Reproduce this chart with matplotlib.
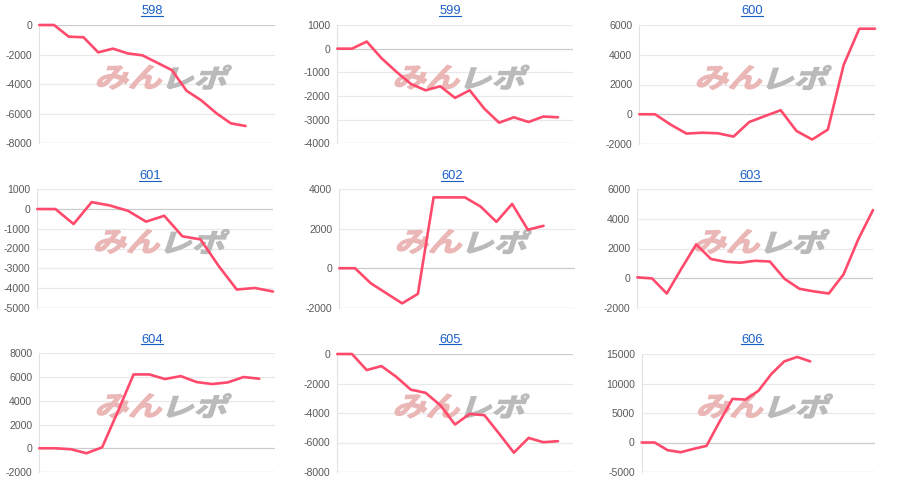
import numpy as np
import matplotlib.pyplot as plt
import matplotlib.transforms as mtransforms
from matplotlib.lines import Line2D
from matplotlib.textpath import TextPath
from matplotlib.patches import PathPatch
from matplotlib.font_manager import FontProperties

plt.rcParams['font.family'] = ['Liberation Sans', 'DejaVu Sans']
plt.rcParams['axes.unicode_minus'] = False

# ------------------------------------------------------------------
# data
# ------------------------------------------------------------------
titles = ['598', '599', '600', '601', '602', '603', '604', '605', '606']
n_slots = [17, 17, 16, 14, 16, 17, 16, 17, 19]

v598 = [0, 0, -790, -830, -1850, -1600, -1920, -2050, -2550, -3050,
        -4450, -5100, -5950, -6650, -6830]
v599 = [0, 0, 300, -400, -970, -1490, -1760, -1590, -2080, -1760,
        -2540, -3130, -2900, -3100, -2870, -2900]
v600 = [0, 0, -700, -1300, -1240, -1280, -1500, -520, -120, 270,
        -1120, -1700, -1030, 3300, 5750, 5750]
v601 = [0, 0, -760, 350, 180, -90, -640, -340, -1380, -1540,
        -2880, -4080, -4000, -4180]
v602 = [0, 0, -760, -1270, -1780, -1300, 3590, 3590, 3590, 3120,
        2350, 3260, 1950, 2150]
v603 = [50, -20, -1040, 650, 2280, 1290, 1100, 1040, 1170, 1120,
        -50, -720, -900, -1040, 250, 2620, 4600]
v604 = [0, 0, -80, -420, 80, 3100, 6220, 6220, 5830, 6080,
        5580, 5410, 5550, 6000, 5860]
v605 = [0, 0, -1090, -820, -1540, -2420, -2630, -3470, -4780, -4060,
        -4150, -5400, -6690, -5690, -5980, -5910]
v606 = [0, 0, -1300, -1650, -1080, -570, 3500, 7390, 7270, 8750,
        11600, 13750, 14500, 13750]
series = [v598, v599, v600, v601, v602, v603, v604, v605, v606]

yt598 = [-8000, -6000, -4000, -2000, 0]
yt599 = [-4000, -3000, -2000, -1000, 0, 1000]
yt600 = [-2000, 0, 2000, 4000, 6000]
yt601 = [-5000, -4000, -3000, -2000, -1000, 0, 1000]
yt602 = [-2000, 0, 2000, 4000]
yt603 = [-2000, 0, 2000, 4000, 6000]
yt604 = [-2000, 0, 2000, 4000, 6000, 8000]
yt605 = [-8000, -6000, -4000, -2000, 0]
yt606 = [-5000, 0, 5000, 10000, 15000]
yticks = [yt598, yt599, yt600, yt601, yt602, yt603, yt604, yt605, yt606]

# ------------------------------------------------------------------
# layout in pixels: plot box (left, right, top, bottom), title pos
# ------------------------------------------------------------------
W, H = 900, 492
boxes = [(39.3, 275, 25, 143.3), (337.3, 572.7, 25, 143.3), (639.3, 875, 25, 144),
         (37.3, 273, 189.3, 307.7), (339.3, 575, 189.3, 307.7), (637.3, 873, 189.3, 307.7),
         (39.3, 275, 353.3, 472), (337.3, 572.7, 354, 472), (641.7, 875, 354, 472)]
title_x = [152, 450, 752, 150, 452, 750, 152, 450, 752]
title_base = [14, 14, 14, 179, 179, 179, 342.7, 342.7, 342.7]

LINE_COLOR = '#ff4a6b'
LINK_COLOR = '#1a5fc8'
GRID = '#e9e9e9'
BASE = '#cccccc'

fig = plt.figure(figsize=(W / 100, H / 100), dpi=100)
fig.patch.set_facecolor('white')

wm_font = FontProperties(family='Noto Sans CJK JP', weight='bold')


def watermark(ax):
    # "みんレポ" logo, pink + grey, stretched and slanted
    parts = [('みん', '#eab6b6', -26, 64, 24), ('レポ', '#bababa', 42, 58, 24)]
    for txt, col, dx, tw, th in parts:
        tp = TextPath((0, 0), txt, size=30, prop=wm_font)
        bb = tp.get_extents()
        tr = (mtransforms.Affine2D()
              .translate(-(bb.x0 + bb.x1) / 2, -(bb.y0 + bb.y1) / 2)
              .scale(tw / bb.width, th / bb.height)
              .skew_deg(18, 0)
              .translate(dx, 7)
              .scale(1 / 100)
              + fig.dpi_scale_trans
              + mtransforms.ScaledTranslation(0.5, 0.5, ax.transAxes)
              - mtransforms.ScaledTranslation(0, 0, fig.dpi_scale_trans))
        patch = PathPatch(tp, facecolor=col, edgecolor=col, lw=0.9,
                          joinstyle='round', transform=tr, zorder=3)
        patch.set_clip_on(False)
        ax.add_artist(patch)


for i in range(9):
    l, r, t, b = boxes[i]
    ax = fig.add_axes([l / W, 1 - b / H, (r - l) / W, (b - t) / H])
    vals = series[i]
    ticks = yticks[i]

    for tk in ticks:
        c = BASE if (tk == 0 or tk == min(ticks)) else GRID
        ax.axhline(tk, color=c, lw=0.9, zorder=1)

    watermark(ax)
    ax.plot(np.arange(len(vals)), vals, color=LINE_COLOR, lw=1.9,
            solid_joinstyle='round', solid_capstyle='round', zorder=4, clip_on=False)

    ax.set_xlim(0, n_slots[i] - 1)
    ax.set_ylim(min(ticks), max(ticks))
    ax.set_xticks([])
    ax.set_yticks(ticks)
    ax.set_yticklabels([str(tk) for tk in ticks])
    ax.tick_params(axis='y', length=0, pad=5, labelsize=7.6, labelcolor='#5a5a5a')
    for s in ['top', 'right', 'bottom']:
        ax.spines[s].set_visible(False)
    ax.spines['left'].set_color('#e2e2e2')
    ax.spines['left'].set_linewidth(0.8)
    ax.set_facecolor('none')

    fig.text(title_x[i] / W, 1 - title_base[i] / H, titles[i], ha='center',
             va='baseline', fontsize=9.3, color=LINK_COLOR)

fig.canvas.draw()
renderer = fig.canvas.get_renderer()
for t in fig.texts:
    bb = t.get_window_extent(renderer)
    # underline just below the baseline
    base_y = t.get_position()[1] * H - 1.6
    fig.add_artist(Line2D([bb.x0 / W, bb.x1 / W], [base_y / H, base_y / H],
                          color=LINK_COLOR, lw=0.8, transform=fig.transFigure))

fig.savefig('out.png', dpi=100, facecolor='white')
